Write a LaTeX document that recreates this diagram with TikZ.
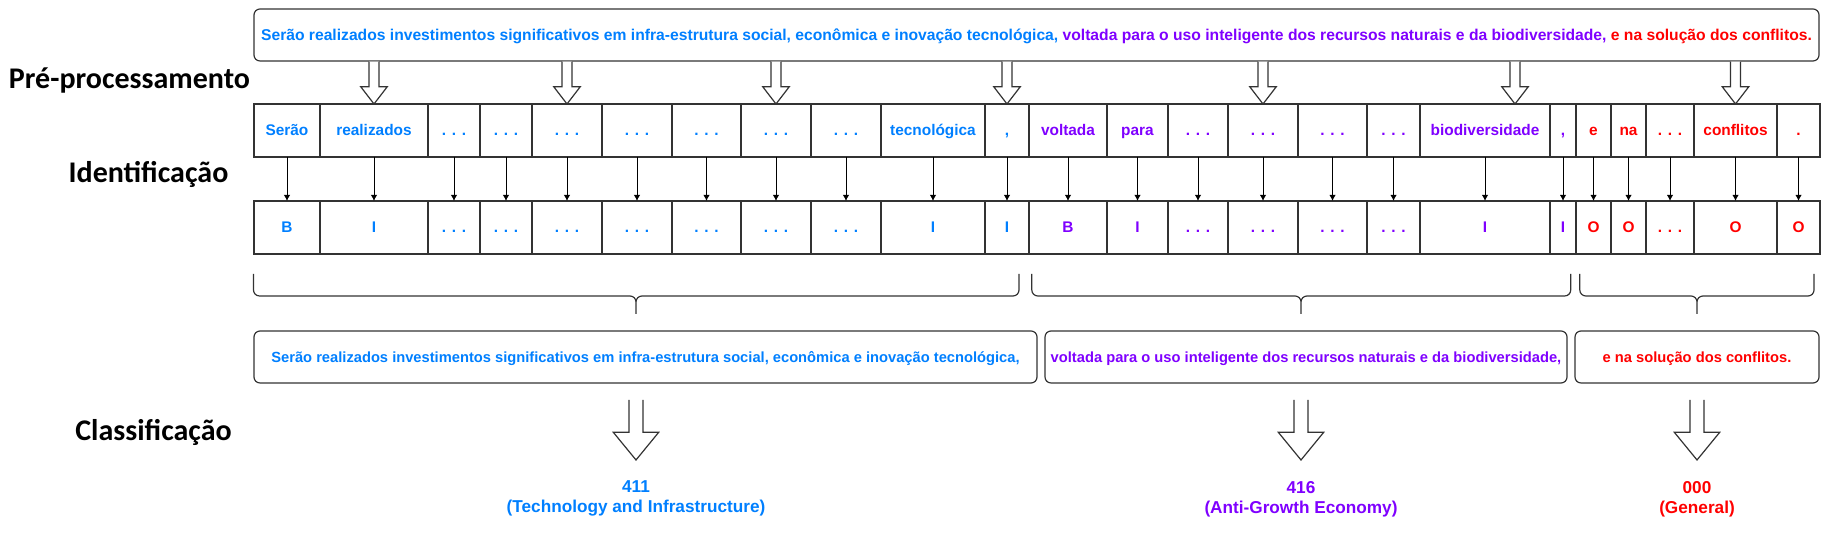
\documentclass[tikz,border=0pt]{standalone}
\usepackage{fontspec}
\setmainfont{Liberation Sans}
\newfontfamily\stagefont{Carlito}
\usetikzlibrary{arrows.meta,positioning,calc}
\definecolor{segblue}{RGB}{0,127,255}
\definecolor{segpurple}{RGB}{127,0,255}
\definecolor{segred}{RGB}{255,0,0}

\tikzset{fatline/.style={draw=black!80,fill=white,line width=0.6pt,line join=miter}}
% hollow arrow: start, tip, half shaft, half head, head length
\newcommand\hollow[5]{%
  \draw[fatline] ($(#1)+(-#3,0)$) -- ($(#2)+(-#3,#5)$) -- ($(#2)+(-#4,#5)$) -- (#2)
    -- ($(#2)+(#4,#5)$) -- ($(#2)+(#3,#5)$) -- ($(#1)+(#3,0)$);}
\newcommand\curly[3]{%
  \draw[brace] (#1,129.5) -- (#1,118.5) -- (#2,118.5) -- (#2,109.5)
               (#3,129.5) -- (#3,118.5) -- (#2,118.5) -- (#2,109.5);}

\begin{document}
\begin{tikzpicture}[x=1pt,y=1pt,>={Latex[length=3pt,width=3.2pt]},
  cell/.style={draw=black!80,line width=0.6pt,minimum width=#1,minimum height=26.5pt,
    inner sep=0pt,outer sep=0pt,text height=5.5pt,text depth=0pt,
    font=\bfseries\fontsize{7.7}{9}\selectfont},
  frase/.style={draw=black!80,line width=0.6pt,rounded corners=3pt,inner sep=0pt,
    outer sep=0pt,minimum height=26pt,text height=5.5pt,text depth=0pt},
  stage/.style={font=\stagefont\bfseries\fontsize{15}{18}\selectfont,anchor=base},
  classe/.style={font=\bfseries\fontsize{8.6}{10.05}\selectfont,align=center,
    inner sep=0pt,anchor=north},
  tagarrow/.style={->,line width=0.5pt},
  brace/.style={draw=black!80,line width=0.6pt,rounded corners=3pt}]
\useasboundingbox (0,0) rectangle (918,266.5);

  \node[stage]  (pre)     at (64.75,222.35) {Pré-processamento};
  \node[stage]  (ident)   at (74.25,175.15) {Identificação};
  \node[stage]  (classif) at (76.75,46.15)  {Classificação};

  \node[frase,minimum width=782.5pt,anchor=north west,
        font=\bfseries\fontsize{7.83}{9}\selectfont] (sentenca) at (127,262)
    {\color{segblue}Serão realizados investimentos significativos em infra-estrutura social, econômica e inovação tecnológica,
     \color{segpurple}voltada para o uso inteligente dos recursos naturais e da biodiversidade,
     \color{segred}e na solução dos conflitos.};

  % tokens
  \node[cell=33pt,text=segblue,anchor=north west] (w1) at (127,214.5) {Serão};
  \node[cell=54pt,text=segblue]     (w2)  [right=0pt of w1]  {realizados};
  \node[cell=26pt,text=segblue]     (w3)  [right=0pt of w2]  {. . .};
  \node[cell=26pt,text=segblue]     (w4)  [right=0pt of w3]  {. . .};
  \node[cell=35pt,text=segblue]     (w5)  [right=0pt of w4]  {. . .};
  \node[cell=35pt,text=segblue]     (w6)  [right=0pt of w5]  {. . .};
  \node[cell=34.5pt,text=segblue]   (w7)  [right=0pt of w6]  {. . .};
  \node[cell=35pt,text=segblue]     (w8)  [right=0pt of w7]  {. . .};
  \node[cell=35pt,text=segblue]     (w9)  [right=0pt of w8]  {. . .};
  \node[cell=52pt,text=segblue]     (w10) [right=0pt of w9]  {tecnológica};
  \node[cell=22pt,text=segblue]     (w11) [right=0pt of w10] {,};
  \node[cell=39pt,text=segpurple]   (w12) [right=0pt of w11] {voltada};
  \node[cell=30.5pt,text=segpurple] (w13) [right=0pt of w12] {para};
  \node[cell=30pt,text=segpurple]   (w14) [right=0pt of w13] {. . .};
  \node[cell=35pt,text=segpurple]   (w15) [right=0pt of w14] {. . .};
  \node[cell=34.5pt,text=segpurple] (w16) [right=0pt of w15] {. . .};
  \node[cell=26.5pt,text=segpurple] (w17) [right=0pt of w16] {. . .};
  \node[cell=65pt,text=segpurple]   (w18) [right=0pt of w17] {biodiversidade};
  \node[cell=13pt,text=segpurple]   (w19) [right=0pt of w18] {,};
  \node[cell=17.5pt,text=segred]    (w20) [right=0pt of w19] {e};
  \node[cell=17.5pt,text=segred]    (w21) [right=0pt of w20] {na};
  \node[cell=24pt,text=segred]      (w22) [right=0pt of w21] {. . .};
  \node[cell=41.5pt,text=segred]    (w23) [right=0pt of w22] {conflitos};
  \node[cell=21.5pt,text=segred]    (w24) [right=0pt of w23] {.};

  % tags
  \node[cell=33pt,text=segblue]     (t1)  [below=22pt of w1] {B};
  \node[cell=54pt,text=segblue]     (t2)  [right=0pt of t1]  {I};
  \node[cell=26pt,text=segblue]     (t3)  [right=0pt of t2]  {. . .};
  \node[cell=26pt,text=segblue]     (t4)  [right=0pt of t3]  {. . .};
  \node[cell=35pt,text=segblue]     (t5)  [right=0pt of t4]  {. . .};
  \node[cell=35pt,text=segblue]     (t6)  [right=0pt of t5]  {. . .};
  \node[cell=34.5pt,text=segblue]   (t7)  [right=0pt of t6]  {. . .};
  \node[cell=35pt,text=segblue]     (t8)  [right=0pt of t7]  {. . .};
  \node[cell=35pt,text=segblue]     (t9)  [right=0pt of t8]  {. . .};
  \node[cell=52pt,text=segblue]     (t10) [right=0pt of t9]  {I};
  \node[cell=22pt,text=segblue]     (t11) [right=0pt of t10] {I};
  \node[cell=39pt,text=segpurple]   (t12) [right=0pt of t11] {B};
  \node[cell=30.5pt,text=segpurple] (t13) [right=0pt of t12] {I};
  \node[cell=30pt,text=segpurple]   (t14) [right=0pt of t13] {. . .};
  \node[cell=35pt,text=segpurple]   (t15) [right=0pt of t14] {. . .};
  \node[cell=34.5pt,text=segpurple] (t16) [right=0pt of t15] {. . .};
  \node[cell=26.5pt,text=segpurple] (t17) [right=0pt of t16] {. . .};
  \node[cell=65pt,text=segpurple]   (t18) [right=0pt of t17] {I};
  \node[cell=13pt,text=segpurple]   (t19) [right=0pt of t18] {I};
  \node[cell=17.5pt,text=segred]    (t20) [right=0pt of t19] {O};
  \node[cell=17.5pt,text=segred]    (t21) [right=0pt of t20] {O};
  \node[cell=24pt,text=segred]      (t22) [right=0pt of t21] {. . .};
  \node[cell=41.5pt,text=segred]    (t23) [right=0pt of t22] {O};
  \node[cell=21.5pt,text=segred]    (t24) [right=0pt of t23] {O};

  % segments
  \node[frase,minimum width=391.5pt,anchor=north west,text=segblue,
        font=\bfseries\fontsize{7.35}{9}\selectfont] (seg1) at (127,101)
    {Serão realizados investimentos significativos em infra-estrutura social, econômica e inovação tecnológica,};
  \node[frase,minimum width=261pt,anchor=north west,text=segpurple,
        font=\bfseries\fontsize{7.35}{9}\selectfont] (seg2) at (522.5,101)
    {voltada para o uso inteligente dos recursos naturais e da biodiversidade,};
  \node[frase,minimum width=122pt,anchor=north west,text=segred,
        font=\bfseries\fontsize{7.35}{9}\selectfont] (seg3) at (787.5,101)
    {e na solução dos conflitos.};

  \node[classe,text=segblue]   (lab1) at (318,26.2)   {411\\(Technology and Infrastructure)};
  \node[classe,text=segpurple] (lab2) at (650.5,26.2) {416\\(Anti-Growth Economy)};
  \node[classe,text=segred]    (lab3) at (848.5,26.2) {000\\(General)};

  % ends of the hollow arrows
  \coordinate (s2)  at ($(w2.north |- sentenca.south)+(0,-0.3)$);
  \coordinate (s5)  at ($(w5.north |- sentenca.south)+(0,-0.3)$);
  \coordinate (s8)  at ($(w8.north |- sentenca.south)+(0,-0.3)$);
  \coordinate (s11) at ($(w11.north |- sentenca.south)+(0,-0.3)$);
  \coordinate (s15) at ($(w15.north |- sentenca.south)+(0,-0.3)$);
  \coordinate (s18) at ($(w18.north |- sentenca.south)+(15,-0.3)$);
  \coordinate (e18) at ($(w18.north)+(15,0)$);
  \coordinate (s23) at ($(w23.north |- sentenca.south)+(0,-0.3)$);
  \hollow{s2}{w2.north}{2.5}{6.65}{8.65}
  \hollow{s5}{w5.north}{2.5}{6.65}{8.65}
  \hollow{s8}{w8.north}{2.5}{6.65}{8.65}
  \hollow{s11}{w11.north}{2.5}{6.65}{8.65}
  \hollow{s15}{w15.north}{2.5}{6.65}{8.65}
  \hollow{s18}{e18}{2.5}{6.65}{8.65}
  \hollow{s23}{w23.north}{2.5}{6.65}{8.65}

\path
      (w1)  edge [tagarrow] (t1)   (w2)  edge [tagarrow] (t2)
      (w3)  edge [tagarrow] (t3)   (w4)  edge [tagarrow] (t4)
      (w5)  edge [tagarrow] (t5)   (w6)  edge [tagarrow] (t6)
      (w7)  edge [tagarrow] (t7)   (w8)  edge [tagarrow] (t8)
      (w9)  edge [tagarrow] (t9)   (w10) edge [tagarrow] (t10)
      (w11) edge [tagarrow] (t11)  (w12) edge [tagarrow] (t12)
      (w13) edge [tagarrow] (t13)  (w14) edge [tagarrow] (t14)
      (w15) edge [tagarrow] (t15)  (w16) edge [tagarrow] (t16)
      (w17) edge [tagarrow] (t17)  (w18) edge [tagarrow] (t18)
      (w19) edge [tagarrow] (t19)  (w20) edge [tagarrow] (t20)
      (w21) edge [tagarrow] (t21)  (w22) edge [tagarrow] (t22)
      (w23) edge [tagarrow] (t23)  (w24) edge [tagarrow] (t24);

  \curly{126.75}{318}{509.5}
  \curly{515.9}{650.5}{785.35}
  \curly{789.9}{848.5}{907}

  \coordinate (c1) at ($(lab1.north |- seg1.south)+(0,-8.5)$);
  \coordinate (c2) at ($(lab2.north |- seg2.south)+(0,-8.5)$);
  \coordinate (c3) at ($(lab3.north |- seg3.south)+(0,-8.5)$);
  \coordinate (d1) at ($(lab1.north)+(0,10.3)$);
  \coordinate (d2) at ($(lab2.north)+(0,10.3)$);
  \coordinate (d3) at ($(lab3.north)+(0,10.3)$);
  \hollow{c1}{d1}{3.5}{11.35}{13.85}
  \hollow{c2}{d2}{3.5}{11.35}{13.85}
  \hollow{c3}{d3}{3.5}{11.35}{13.85}
\end{tikzpicture}
\end{document}
